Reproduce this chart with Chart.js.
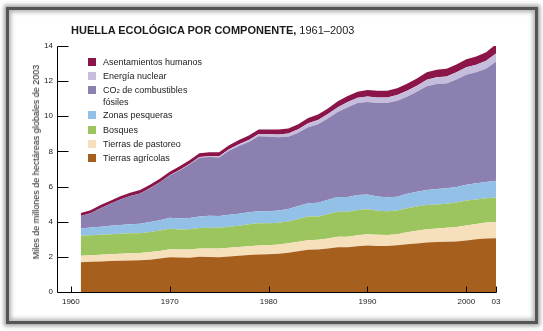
<!DOCTYPE html>
<html>
<head>
<meta charset="utf-8">
<script src="https://cdn.jsdelivr.net/npm/chart.js@4.4.1/dist/chart.umd.min.js"></script>
<style>
  html, body { margin: 0; padding: 0; background: #fff; }
  #wrap { position: relative; width: 543px; height: 331px; overflow: hidden; font-family: "Liberation Sans", Arial, sans-serif; }
  #frame { position: absolute; left: 6px; top: 7px; width: 526px; height: 311px; border: 3px solid #555;
           box-shadow: 0 0 4px 2px rgba(100,100,100,0.6), inset 0 0 4px 2px rgba(100,100,100,0.5); filter: blur(0.7px); }
  #c { position: absolute; left: 0; top: 0; }
  #title { position: absolute; left: 71px; top: 24px; font-size: 11px; color: #1a1a1a; white-space: nowrap; line-height: 13px; }
  #title b { font-weight: bold; }
  #ytitle { position: absolute; left: 36px; top: 162px; transform: translate(-50%, -50%) rotate(-90deg);
            font-size: 9px; color: #222; white-space: nowrap; }
  #legend { position: absolute; left: 88px; top: 57px; font-size: 9px; color: #1a1a1a; }
  .row { position: relative; height: 14.2px; line-height: 11px; padding-left: 15px; }
  .row.two { height: 25px; }
  .sw { position: absolute; left: 0; top: 1px; width: 8px; height: 8px; }
</style>
</head>
<body>
<div id="wrap">
  <div id="frame"></div>
  <canvas id="c" width="543" height="331"></canvas>
  <div id="title"><b>HUELLA ECOLÓGICA POR COMPONENTE,</b> 1961–2003</div>
  <div id="ytitle">Miles de millones de hectáreas globales de 2003</div>
  <div id="legend"></div>
</div>
<script>
// Years (x categories)
const years = [1961,1962,1963,1964,1965,1966,1967,1968,1969,1970,
               1971,1972,1973,1974,1975,1976,1977,1978,1979,1980,
               1981,1982,1983,1984,1985,1986,1987,1988,1989,1990,
               1991,1992,1993,1994,1995,1996,1997,1998,1999,2000,
               2001,2002,2003];

// Component values (billion global hectares), bottom to top
const tierrasAgricolas = [1.70,1.72,1.74,1.76,1.78,1.79,1.80,1.84,1.90,1.98,
                          1.96,1.95,2.00,1.99,1.98,2.02,2.06,2.10,2.14,2.15,
                          2.18,2.24,2.32,2.40,2.42,2.48,2.55,2.54,2.60,2.64,
                          2.62,2.62,2.66,2.72,2.76,2.82,2.84,2.86,2.88,2.93,
                          3.00,3.05,3.06];
const tierrasPastoreo = [0.36,0.37,0.38,0.39,0.40,0.41,0.42,0.43,0.44,0.45,
                         0.46,0.47,0.48,0.49,0.50,0.50,0.50,0.51,0.51,0.51,
                         0.52,0.53,0.54,0.55,0.55,0.57,0.60,0.61,0.63,0.65,
                         0.64,0.63,0.63,0.68,0.72,0.75,0.78,0.80,0.82,0.85,
                         0.87,0.90,0.92];
const bosques = [1.14,1.14,1.14,1.14,1.14,1.14,1.13,1.15,1.16,1.17,
                 1.14,1.15,1.16,1.18,1.17,1.19,1.21,1.24,1.26,1.25,
                 1.24,1.24,1.30,1.34,1.33,1.38,1.42,1.42,1.44,1.42,
                 1.36,1.34,1.35,1.37,1.38,1.38,1.36,1.36,1.40,1.43,
                 1.40,1.38,1.40];
const zonasPesqueras = [0.42,0.44,0.46,0.48,0.50,0.52,0.54,0.56,0.59,0.62,
                        0.63,0.64,0.66,0.68,0.68,0.69,0.69,0.69,0.68,0.68,
                        0.70,0.72,0.74,0.76,0.78,0.82,0.84,0.84,0.85,0.84,
                        0.82,0.80,0.78,0.82,0.84,0.86,0.88,0.88,0.88,0.90,
                        0.92,0.93,0.95];
const co2Combustibles = [0.71,0.81,1.05,1.25,1.44,1.60,1.72,1.91,2.15,2.41,
                         2.73,3.05,3.34,3.34,3.33,3.64,3.85,3.99,4.27,4.25,
                         4.17,4.11,4.16,4.33,4.46,4.62,4.83,5.11,5.23,5.27,
                         5.32,5.36,5.46,5.52,5.69,5.90,5.98,5.97,6.12,6.26,
                         6.31,6.45,6.78];
const energiaNuclear = [0,0,0,0,0,0,0,0.01,0.01,0.02,
                        0.02,0.03,0.04,0.05,0.06,0.08,0.10,0.12,0.13,0.14,
                        0.16,0.18,0.20,0.22,0.25,0.26,0.28,0.29,0.30,0.30,
                        0.31,0.32,0.33,0.34,0.35,0.37,0.38,0.39,0.40,0.42,
                        0.43,0.45,0.47];
const asentamientos = [0.17,0.17,0.18,0.18,0.19,0.19,0.19,0.20,0.20,0.20,
                       0.21,0.21,0.22,0.22,0.23,0.23,0.24,0.25,0.26,0.27,
                       0.28,0.28,0.29,0.30,0.31,0.32,0.33,0.34,0.35,0.38,
                       0.38,0.38,0.39,0.40,0.41,0.42,0.43,0.44,0.45,0.46,
                       0.47,0.49,0.52];

// Axis tick values and labels
const yTicks = [0,2,4,6,8,10,12,14];
const xTicks = [1960,1970,1980,1990,2000,2003];
const xTickLabels = ['1960','1970','1980','1990','2000','03'];

const series = [
  { label: 'Tierras agrícolas', data: tierrasAgricolas, color: '#A65F1D' },
  { label: 'Tierras de pastoreo', data: tierrasPastoreo, color: '#F6E0BC' },
  { label: 'Bosques', data: bosques, color: '#9CC560' },
  { label: 'Zonas pesqueras', data: zonasPesqueras, color: '#92C0E6' },
  { label: 'CO₂ de combustibles fósiles', data: co2Combustibles, color: '#8C80B1', legendHtml: 'CO<span style="font-size:6px">2</span> de combustibles<br>fósiles' },
  { label: 'Energía nuclear', data: energiaNuclear, color: '#C6BCDC' },
  { label: 'Asentamientos humanos', data: asentamientos, color: '#8B1449' }
];

const datasets = series.map((s, i) => ({
  label: s.label,
  data: years.map((yr, j) => ({ x: yr, y: s.data[j] })),
  backgroundColor: s.color,
  borderColor: s.color,
  borderWidth: 0,
  pointRadius: 0,
  tension: 0,
  fill: i === 0 ? 'origin' : '-1'
}));

// HTML legend (top to bottom = reverse stack order)
const legendEl = document.getElementById('legend');
series.slice().reverse().forEach(s => {
  const row = document.createElement('div');
  row.className = 'row' + (s.legendHtml ? ' two' : '');
  row.innerHTML = '<span class="sw" style="background:' + s.color + '"></span>' + (s.legendHtml || s.label);
  legendEl.appendChild(row);
});

// Axis lines and inward tick marks, positioned through the chart's scales
const axesAndTicks = {
  id: 'axesAndTicks',
  afterDraw(chart) {
    const ctx = chart.ctx, xs = chart.scales.x, ys = chart.scales.y;
    const left = Math.round(xs.getPixelForValue(xs.min)) + 0.5;
    const right = Math.round(xs.getPixelForValue(xs.max)) + 0.5;
    const bottom = Math.round(ys.getPixelForValue(0)) + 0.5;
    const top = Math.round(ys.getPixelForValue(ys.max)) + 0.5;
    ctx.save();
    ctx.strokeStyle = '#000';
    ctx.lineWidth = 1;
    ctx.beginPath();
    ctx.moveTo(left, top); ctx.lineTo(left, bottom); ctx.lineTo(right, bottom);
    ctx.stroke();
    ys.ticks.forEach(t => {
      const py = Math.round(ys.getPixelForValue(t.value)) + 0.5;
      ctx.beginPath(); ctx.moveTo(left, py); ctx.lineTo(left + 11, py); ctx.stroke();
    });
    xs.ticks.forEach(t => {
      const px = Math.round(xs.getPixelForValue(t.value)) + 0.5;
      ctx.beginPath(); ctx.moveTo(px, bottom); ctx.lineTo(px, bottom - 6); ctx.stroke();
    });
    ctx.restore();
  }
};

Chart.defaults.font.family = '"Liberation Sans", Arial, sans-serif';
Chart.defaults.color = '#1a1a1a';

new Chart(document.getElementById('c'), {
  type: 'line',
  data: { datasets },
  plugins: [axesAndTicks],
  options: {
    responsive: false,
    animation: false,
    devicePixelRatio: 1,
    layout: { padding: { left: 0, top: 46, right: 47, bottom: 19 } },
    plugins: { legend: { display: false }, tooltip: { enabled: false }, title: { display: false } },
    elements: { line: { borderWidth: 0 } },
    scales: {
      x: {
        type: 'linear',
        min: 1958.6,
        max: 2003,
        grid: { display: false, drawTicks: false },
        border: { display: false },
        afterBuildTicks: sc => { sc.ticks = xTicks.map(v => ({ value: v })); },
        afterFit: sc => { sc.height = 20; },
        ticks: {
          autoSkip: false, maxRotation: 0, padding: 5,
          font: { size: 8 },
          callback: (v) => xTickLabels[xTicks.indexOf(v)]
        }
      },
      y: {
        stacked: true,
        min: 0,
        max: 14,
        grid: { display: false, drawTicks: false },
        border: { display: false },
        afterBuildTicks: sc => { sc.ticks = yTicks.map(v => ({ value: v })); },
        afterFit: sc => { sc.width = 57; },
        ticks: { padding: 4, font: { size: 8 } }
      }
    }
  }
});
</script>
</body>
</html>
